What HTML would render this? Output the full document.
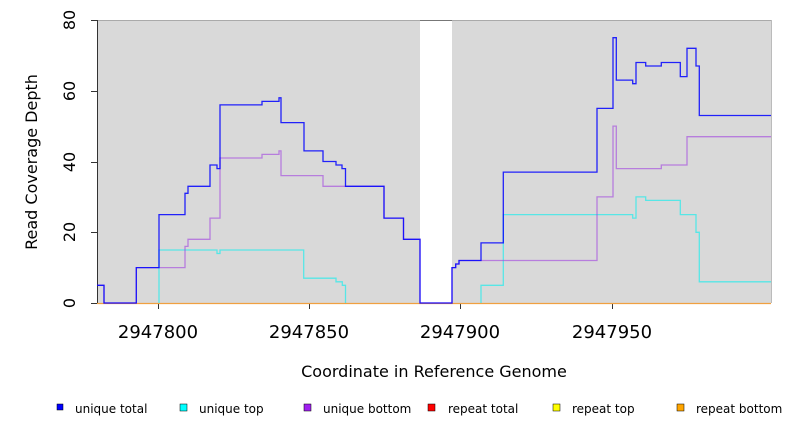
<!DOCTYPE html>
<html><head><meta charset="utf-8"><style>body{margin:0;background:#fff}svg{display:block}text{font-family:"DejaVu Sans","Liberation Sans",sans-serif}</style></head><body>
<svg width="792" height="432" xmlns="http://www.w3.org/2000/svg">
<rect x="97" y="20" width="323" height="283" fill="#d9d9d9"/>
<rect x="452" y="20" width="319" height="283" fill="#d9d9d9"/>
<line x1="97" y1="20.5" x2="771" y2="20.5" stroke="#aaa" stroke-width="1"/>
<line x1="420" y1="20.5" x2="452" y2="20.5" stroke="#777" stroke-width="1"/>
<line x1="771.5" y1="20" x2="771.5" y2="303" stroke="#bbb"/>
<line x1="97.5" y1="20" x2="97.5" y2="303" stroke="#333"/>
<g stroke="#333"><line x1="91" y1="20.5" x2="97" y2="20.5"/><line x1="91" y1="91.5" x2="97" y2="91.5"/><line x1="91" y1="162.5" x2="97" y2="162.5"/><line x1="91" y1="232.5" x2="97" y2="232.5"/><line x1="91" y1="303.5" x2="97" y2="303.5"/>
<line x1="158.5" y1="303" x2="158.5" y2="309"/><line x1="309.5" y1="303" x2="309.5" y2="309"/><line x1="460.5" y1="303" x2="460.5" y2="309"/><line x1="612.5" y1="303" x2="612.5" y2="309"/></g>
<line x1="97" y1="303.5" x2="771" y2="303.5" stroke="#f0a040" stroke-width="1.2"/>
<g font-size="16" fill="#000" text-anchor="middle">
<text transform="translate(75,20) rotate(-90)">80</text>
<text transform="translate(75,91) rotate(-90)">60</text>
<text transform="translate(75,162) rotate(-90)">40</text>
<text transform="translate(75,232) rotate(-90)">20</text>
<text transform="translate(75,303) rotate(-90)">0</text>
<text transform="translate(37,162) rotate(-90)" font-size="16">Read Coverage Depth</text>
<text x="158" y="338" font-size="18">2947800</text><text x="309" y="338" font-size="18">2947850</text><text x="460" y="338" font-size="18">2947900</text><text x="612" y="338" font-size="18">2947950</text>
<text x="434" y="377" font-size="16">Coordinate in Reference Genome</text>
</g>
<g fill="none" stroke-width="1.3">
<polyline stroke="#00eeee" stroke-opacity="0.6" points="159,303 159,250 217,250 217,253.5 220,253.5 220,250 303.7,250 303.7,278.2 336,278.2 336,281.8 342.3,281.8 342.3,285.3 345.5,285.3 345.5,303"/>
<polyline stroke="#00eeee" stroke-opacity="0.6" points="481,303 481,285.3 503.3,285.3 503.3,214.6 632.7,214.6 632.7,218.1 636,218.1 636,196.9 645.7,196.9 645.7,200.4 680.3,200.4 680.3,214.6 696,214.6 696,232.3 699.3,232.3 699.3,281.8 771,281.8"/>
<polyline stroke="#a040e0" stroke-opacity="0.6" points="97,285.3 104,285.3 104,303 136.3,303 136.3,267.6 185,267.6 185,246.4 188,246.4 188,239.3 210,239.3 210,218.1 220,218.1 220,158 262,158 262,154.4 279,154.4 279,150.9 281,150.9 281,175.6 323,175.6 323,186.3 384,186.3 384,218.1 403.5,218.1 403.5,239.3 420,239.3 420,303 452,303 452,267.6 455.7,267.6 455.7,264 459,264 459,260.5 597,260.5 597,196.9 613,196.9 613,126.1 616.3,126.1 616.3,168.6 661.3,168.6 661.3,165 687,165 687,136.7 771,136.7"/>
<polyline stroke="#0000ff" stroke-opacity="0.85" points="97,285.3 104,285.3 104,303 136.3,303 136.3,267.6 159,267.6 159,214.6 185,214.6 185,193.3 188,193.3 188,186.3 210,186.3 210,165 217,165 217,168.6 220,168.6 220,104.9 262,104.9 262,101.4 279,101.4 279,97.8 281,97.8 281,122.6 304,122.6 304,150.9 323,150.9 323,161.5 336,161.5 336,165 342,165 342,168.6 345.5,168.6 345.5,186.3 384,186.3 384,218.1 403.5,218.1 403.5,239.3 420,239.3 420,303 452,303 452,267.6 455.7,267.6 455.7,264 459,264 459,260.5 481,260.5 481,242.9 503.3,242.9 503.3,172.1 597,172.1 597,108.4 613,108.4 613,37.7 616.3,37.7 616.3,80.1 632.7,80.1 632.7,83.7 636,83.7 636,62.5 645.7,62.5 645.7,66 661.3,66 661.3,62.5 680.3,62.5 680.3,76.6 687,76.6 687,48.3 696,48.3 696,66 699.3,66 699.3,115.5 771,115.5"/>
</g>
<g font-size="12" fill="#000">
<rect x="57" y="404" width="6" height="6" fill="#0000ff" stroke="#000" stroke-width="0.5"/><text x="75" y="413">unique total</text>
<rect x="180" y="404" width="7" height="7" fill="#00ffff" stroke="#000" stroke-width="0.5"/><text x="199" y="413">unique top</text>
<rect x="304" y="404" width="7" height="7" fill="#a020f0" stroke="#000" stroke-width="0.5"/><text x="323" y="413">unique bottom</text>
<rect x="428" y="404" width="7" height="7" fill="#ff0000" stroke="#000" stroke-width="0.5"/><text x="448" y="413">repeat total</text>
<rect x="553" y="404" width="7" height="7" fill="#ffff00" stroke="#000" stroke-width="0.5"/><text x="572" y="413">repeat top</text>
<rect x="677" y="404" width="7" height="7" fill="#ffa500" stroke="#000" stroke-width="0.5"/><text x="696" y="413">repeat bottom</text>
</g>
</svg>
</body></html>
